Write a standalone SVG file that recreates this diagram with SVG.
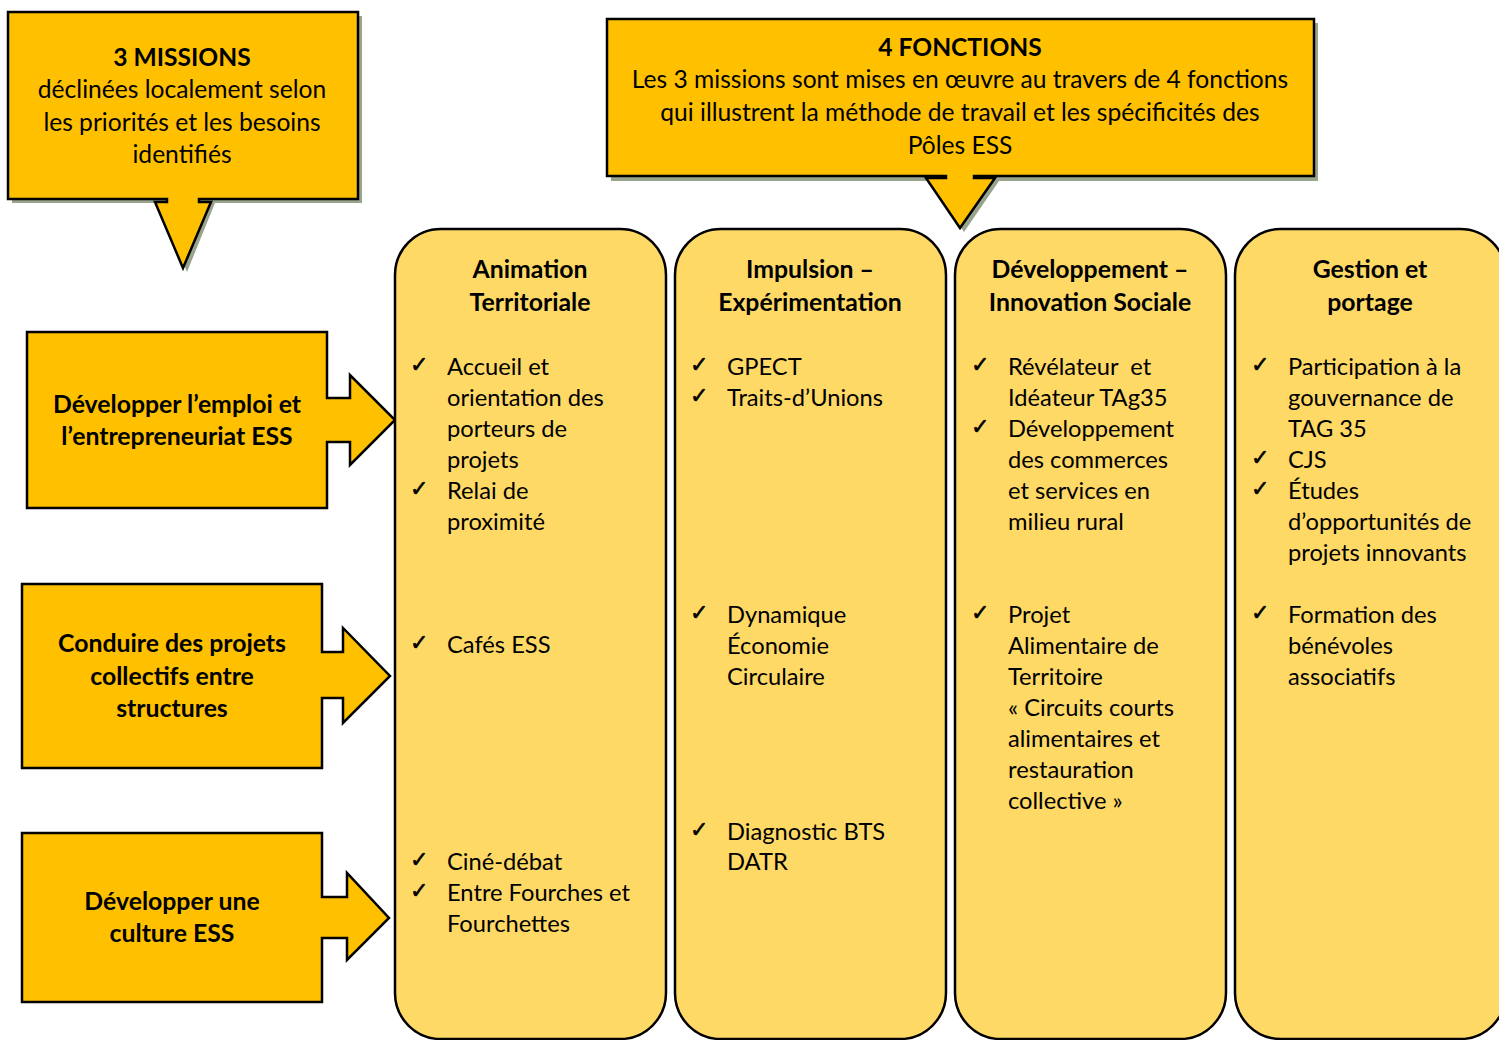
<svg xmlns="http://www.w3.org/2000/svg" width="1499" height="1040" viewBox="0 0 1499 1040">
<defs>
<style>
.co{fill:#FFC000;stroke:#000;stroke-width:2.5;stroke-linejoin:miter}
.sh{fill:#98A48C}
.col{fill:#FFD966;stroke:#000;stroke-width:2.5}
.mi{fill:#FFC000;stroke:#000;stroke-width:2.5;stroke-linejoin:miter}
text{font-family:Lato,"Liberation Sans",sans-serif;fill:#000}
.t{font-size:24.6px;text-anchor:middle}
.b{font-weight:bold}
.h{font-size:24.8px;font-weight:bold;text-anchor:middle}
.i{font-size:23.7px}
.ck{font-family:"DejaVu Sans",sans-serif;font-size:22px;stroke:#000;stroke-width:0.6}
</style>
</defs>
<rect width="1499" height="1040" fill="#fff"/>

<g id="callout-missions">
<path class="sh" d="M12,16 H362 V203 H215 L187,272 L159,203 H12 Z"/>
<path class="co" d="M8,12 H358 V199 H199 V202 H211 L183,268 L155,202 H167 V199 H8 Z"/>
<text class="t b" x="182" y="66">3 MISSIONS</text>
<text class="t" x="182" y="98">déclinées localement selon</text>
<text class="t" x="182" y="131">les priorités et les besoins</text>
<text class="t" x="182" y="163">identifiés</text>
</g>

<g id="callout-fonctions">
<path class="sh" d="M611,23 H1318 V181 H999 L964,232 L930,181 H611 Z"/>
<path class="co" d="M607,19 H1314 V176 H974 V178 H995 L960,228 L926,178 H946 V176 H607 Z"/>
<text class="t b" x="960" y="56">4 FONCTIONS</text>
<text class="t" x="960" y="88">Les 3 missions sont mises en œuvre au travers de 4 fonctions</text>
<text class="t" x="960" y="121">qui illustrent la méthode de travail et les spécificités des</text>
<text class="t" x="960" y="154">Pôles ESS</text>
</g>

<g id="mission-emploi">
<path class="mi" d="M27,332 H327 V398 H350 V375 L395,420 L350,465 V442 H327 V508 H27 Z"/>
<text class="h" x="177" y="413">Développer l’emploi et</text>
<text class="h" x="177" y="445">l’entrepreneuriat ESS</text>
</g>

<g id="mission-projets">
<path class="mi" d="M22,584 H322 V652 H343 V628 L390,676 L343,723 V698 H322 V768 H22 Z"/>
<text class="h" x="172" y="652">Conduire des projets</text>
<text class="h" x="172" y="685">collectifs entre</text>
<text class="h" x="172" y="717">structures</text>
</g>

<g id="mission-culture">
<path class="mi" d="M22,833 H322 V897 H347 V873 L389,918 L347,960 V938 H322 V1002 H22 Z"/>
<text class="h" x="172" y="910">Développer une</text>
<text class="h" x="172" y="942">culture ESS</text>
</g>

<g id="connectors"></g>

<g id="col-animation">
<rect class="col" x="395" y="229" width="271" height="810" rx="46" ry="46"/>
<text class="h" x="530" y="278">Animation</text>
<text class="h" x="530" y="311">Territoriale</text>
<text class="ck" x="410" y="372">✓</text>
<text class="i" x="447" y="375">Accueil et</text>
<text class="i" x="447" y="406">orientation des</text>
<text class="i" x="447" y="437">porteurs de</text>
<text class="i" x="447" y="468">projets</text>
<text class="ck" x="410" y="496">✓</text>
<text class="i" x="447" y="499">Relai de</text>
<text class="i" x="447" y="530">proximité</text>
<text class="ck" x="410" y="650">✓</text>
<text class="i" x="447" y="653">Cafés ESS</text>
<text class="ck" x="410" y="867">✓</text>
<text class="i" x="447" y="870">Ciné-débat</text>
<text class="ck" x="410" y="898">✓</text>
<text class="i" x="447" y="901">Entre Fourches et</text>
<text class="i" x="447" y="932">Fourchettes</text>
</g>

<g id="col-impulsion">
<rect class="col" x="675" y="229" width="271" height="810" rx="46" ry="46"/>
<text class="h" x="810" y="278">Impulsion –</text>
<text class="h" x="810" y="311">Expérimentation</text>
<text class="ck" x="690" y="372">✓</text>
<text class="i" x="727" y="375">GPECT</text>
<text class="ck" x="690" y="403">✓</text>
<text class="i" x="727" y="406">Traits-d’Unions</text>
<text class="ck" x="690" y="620">✓</text>
<text class="i" x="727" y="623">Dynamique</text>
<text class="i" x="727" y="654">Économie</text>
<text class="i" x="727" y="685">Circulaire</text>
<text class="ck" x="690" y="837">✓</text>
<text class="i" x="727" y="840">Diagnostic BTS</text>
<text class="i" x="727" y="870">DATR</text>
</g>

<g id="col-developpement">
<rect class="col" x="955" y="229" width="271" height="810" rx="46" ry="46"/>
<text class="h" x="1090" y="278">Développement –</text>
<text class="h" x="1090" y="311">Innovation Sociale</text>
<text class="ck" x="971" y="372">✓</text>
<text class="i" x="1008" y="375" xml:space="preserve">Révélateur  et</text>
<text class="i" x="1008" y="406">Idéateur TAg35</text>
<text class="ck" x="971" y="434">✓</text>
<text class="i" x="1008" y="437">Développement</text>
<text class="i" x="1008" y="468">des commerces</text>
<text class="i" x="1008" y="499">et services en</text>
<text class="i" x="1008" y="530">milieu rural</text>
<text class="ck" x="971" y="620">✓</text>
<text class="i" x="1008" y="623">Projet</text>
<text class="i" x="1008" y="654">Alimentaire de</text>
<text class="i" x="1008" y="685">Territoire</text>
<text class="i" x="1008" y="716">« Circuits courts</text>
<text class="i" x="1008" y="747">alimentaires et</text>
<text class="i" x="1008" y="778">restauration</text>
<text class="i" x="1008" y="809">collective »</text>
</g>

<g id="col-gestion">
<rect class="col" x="1235" y="229" width="271" height="810" rx="46" ry="46"/>
<text class="h" x="1370" y="278">Gestion et</text>
<text class="h" x="1370" y="311">portage</text>
<text class="ck" x="1251" y="372">✓</text>
<text class="i" x="1288" y="375">Participation à la</text>
<text class="i" x="1288" y="406">gouvernance de</text>
<text class="i" x="1288" y="437">TAG 35</text>
<text class="ck" x="1251" y="465">✓</text>
<text class="i" x="1288" y="468">CJS</text>
<text class="ck" x="1251" y="496">✓</text>
<text class="i" x="1288" y="499">Études</text>
<text class="i" x="1288" y="530">d’opportunités de</text>
<text class="i" x="1288" y="561">projets innovants</text>
<text class="ck" x="1251" y="620">✓</text>
<text class="i" x="1288" y="623">Formation des</text>
<text class="i" x="1288" y="654">bénévoles</text>
<text class="i" x="1288" y="685">associatifs</text>
</g>
</svg>
